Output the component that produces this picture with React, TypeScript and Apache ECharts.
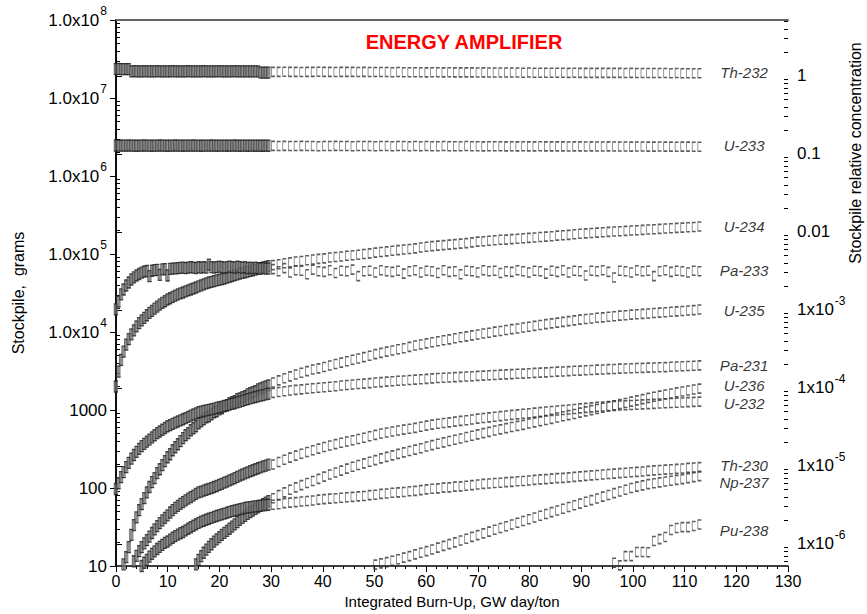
import React, { useEffect, useRef } from "react";
import * as echarts from "echarts";

const FONT = "'Liberation Sans', Arial, Helvetica, sans-serif";

// x positions of computed points: dense early steps and sparse later steps (GW day/ton)
const denseX = [
  0, 0.5, 1, 1.5, 2, 2.5, 3, 3.5, 4, 4.5, 5, 5.5, 6, 6.5, 7, 7.5, 8, 8.5, 9, 9.5,
  10, 10.5, 11, 11.5, 12, 12.5, 13, 13.5, 14, 14.5, 15, 15.5, 16, 16.5, 17, 17.5, 18, 18.5, 19, 19.5,
  20, 20.5, 21, 21.5, 22, 22.5, 23, 23.5, 24, 24.5, 25, 25.5, 26, 26.5, 27, 27.5, 28, 28.5, 29, 29.5,
];
const sparseX = [
  30.4, 31.5, 32.6, 33.7, 34.8, 35.9, 37.0, 38.1, 39.2, 40.3,
  41.4, 42.5, 43.6, 44.7, 45.8, 46.9, 48.0, 49.1, 50.2, 51.3,
  52.4, 53.5, 54.6, 55.7, 56.8, 57.9, 59.0, 60.1, 61.2, 62.3,
  63.4, 64.5, 65.6, 66.7, 67.8, 68.9, 70.0, 71.1, 72.2, 73.3,
  74.4, 75.5, 76.6, 77.7, 78.8, 79.9, 81.0, 82.1, 83.2, 84.3,
  85.4, 86.5, 87.6, 88.7, 89.8, 90.9, 92.0, 93.1, 94.2, 95.3,
  96.4, 97.5, 98.6, 99.7, 100.8, 101.9, 103.0, 104.1, 105.2, 106.3,
  107.4, 108.5, 109.6, 110.7, 111.8, 112.9,
];

// ---- stockpiles in grams ----
const th232Dense = [
  2.35e7, 2.36e7, 2.35e7, 2.34e7, 2.35e7, 2.34e7, 2.2e7, 2.21e7, 2.2e7, 2.19e7,
  2.2e7, 2.21e7, 2.2e7, 2.2e7, 2.19e7, 2.2e7, 2.21e7, 2.2e7, 2.2e7, 2.19e7,
  2.2e7, 2.2e7, 2.21e7, 2.2e7, 2.2e7, 2.19e7, 2.2e7, 2.2e7, 2.21e7, 2.2e7,
  2.2e7, 2.19e7, 2.2e7, 2.2e7, 2.21e7, 2.2e7, 2.2e7, 2.19e7, 2.2e7, 2.2e7,
  2.21e7, 2.2e7, 2.2e7, 2.19e7, 2.2e7, 2.2e7, 2.21e7, 2.2e7, 2.2e7, 2.19e7,
  2.2e7, 2.2e7, 2.19e7, 2.2e7, 2.2e7, 2.19e7, 2.12e7, 2.12e7, 2.11e7, 2.12e7,
];
const th232Sparse = [
  2.16e7, 2.16e7, 2.17e7, 2.16e7, 2.16e7, 2.15e7, 2.16e7, 2.16e7, 2.17e7, 2.16e7,
  2.16e7, 2.15e7, 2.16e7, 2.16e7, 2.16e7, 2.15e7, 2.16e7, 2.15e7, 2.15e7, 2.15e7,
  2.15e7, 2.14e7, 2.15e7, 2.14e7, 2.14e7, 2.14e7, 2.14e7, 2.13e7, 2.14e7, 2.14e7,
  2.13e7, 2.14e7, 2.13e7, 2.13e7, 2.13e7, 2.13e7, 2.12e7, 2.13e7, 2.12e7, 2.12e7,
  2.12e7, 2.12e7, 2.12e7, 2.12e7, 2.11e7, 2.12e7, 2.11e7, 2.11e7, 2.11e7, 2.11e7,
  2.11e7, 2.11e7, 2.1e7, 2.11e7, 2.1e7, 2.1e7, 2.1e7, 2.1e7, 2.1e7, 2.1e7,
  2.1e7, 2.1e7, 2.09e7, 2.1e7, 2.09e7, 2.09e7, 2.09e7, 2.09e7, 2.09e7, 2.09e7,
  2.08e7, 2.09e7, 2.08e7, 2.08e7, 2.08e7, 2.08e7,
];
const u233Dense = [
  2.46e6, 2.45e6, 2.46e6, 2.45e6, 2.45e6, 2.46e6, 2.45e6, 2.45e6, 2.44e6, 2.45e6,
  2.45e6, 2.46e6, 2.45e6, 2.45e6, 2.44e6, 2.45e6, 2.45e6, 2.46e6, 2.45e6, 2.45e6,
  2.44e6, 2.45e6, 2.45e6, 2.46e6, 2.45e6, 2.45e6, 2.44e6, 2.45e6, 2.45e6, 2.45e6,
  2.46e6, 2.45e6, 2.45e6, 2.44e6, 2.45e6, 2.45e6, 2.45e6, 2.46e6, 2.45e6, 2.44e6,
  2.45e6, 2.45e6, 2.45e6, 2.44e6, 2.45e6, 2.45e6, 2.46e6, 2.45e6, 2.44e6, 2.45e6,
  2.45e6, 2.44e6, 2.45e6, 2.45e6, 2.44e6, 2.45e6, 2.44e6, 2.44e6, 2.45e6, 2.44e6,
];
const u233Sparse = [
  2.43e6, 2.42e6, 2.43e6, 2.42e6, 2.42e6, 2.43e6, 2.42e6, 2.42e6, 2.41e6, 2.42e6,
  2.42e6, 2.43e6, 2.42e6, 2.42e6, 2.41e6, 2.42e6, 2.42e6, 2.42e6, 2.41e6, 2.42e6,
  2.42e6, 2.41e6, 2.42e6, 2.42e6, 2.41e6, 2.42e6, 2.41e6, 2.42e6, 2.41e6, 2.41e6,
  2.42e6, 2.41e6, 2.41e6, 2.41e6, 2.42e6, 2.41e6, 2.41e6, 2.4e6, 2.41e6, 2.41e6,
  2.41e6, 2.4e6, 2.41e6, 2.4e6, 2.41e6, 2.4e6, 2.4e6, 2.41e6, 2.4e6, 2.4e6,
  2.4e6, 2.4e6, 2.39e6, 2.4e6, 2.4e6, 2.39e6, 2.4e6, 2.39e6, 2.39e6, 2.4e6,
  2.39e6, 2.39e6, 2.39e6, 2.38e6, 2.39e6, 2.39e6, 2.38e6, 2.38e6, 2.39e6, 2.38e6,
  2.38e6, 2.37e6, 2.38e6, 2.38e6, 2.37e6, 2.37e6,
];
const u234Dense = [
  2000, 3100, 4400, 5600, 6900, 8100, 9300, 10500, 11800, 13000,
  14100, 15200, 16400, 17600, 18700, 19900, 21200, 22400, 23600, 24800,
  26100, 27100, 28200, 29200, 30300, 31200, 32100, 33100, 34100, 35100,
  36100, 37200, 38400, 39600, 40800, 42000, 43100, 44000, 44900, 45800,
  46700, 47600, 48500, 49700, 51000, 52200, 53500, 54800, 56200, 57300,
  58400, 59500, 60700, 61900, 63200, 64500, 65800, 67100, 68500, 69800,
];
const u234Sparse = [
  72000, 74000, 76000, 78000, 80000, 81500, 83000, 85000, 86500, 88000,
  90000, 91500, 93000, 95000, 96500, 98000, 100000, 102000, 104000, 106000,
  108000, 110000, 112000, 114000, 116000, 118000, 121000, 124000, 126000, 128000,
  130000, 132000, 134000, 136000, 138000, 141000, 144000, 146000, 148000, 150000,
  152000, 153000, 155000, 157000, 159000, 161000, 163000, 165000, 167000, 169000,
  172000, 174000, 176000, 179000, 182000, 184000, 186000, 188000, 190000, 192000,
  194000, 196000, 198000, 200000, 202000, 204000, 206000, 208000, 210000, 212000,
  214000, 216000, 218000, 220000, 222000, 225000,
];
const pa233Dense = [
  19500, 24600, 30300, 35100, 39500, 43100, 47100, 50100, 53000, 55400,
  57800, 59600, 60500, 52000, 61000, 62000, 62500, 54000, 63500, 64000,
  53000, 64500, 65000, 65500, 66000, 66500, 67000, 66000, 67000, 68000,
  67000, 66000, 68000, 67000, 68000, 67000, 73000, 68000, 67000, 68000,
  69000, 68000, 67000, 68000, 69000, 68000, 67000, 69000, 68000, 67000,
  68000, 66000, 67000, 66000, 67000, 66000, 65000, 66000, 65000, 65000,
];
const pa233Sparse = [
  64000, 60000, 66000, 58000, 62000, 61000, 55000, 63000, 60000, 59000,
  62000, 57000, 61000, 60000, 63000, 52000, 60000, 61000, 58000, 62000,
  60000, 59000, 61000, 56000, 60000, 62000, 58000, 61000, 60000, 57000,
  62000, 59000, 60000, 55000, 61000, 60000, 58000, 62000, 60000, 61000,
  57000, 60000, 59000, 62000, 60000, 58000, 61000, 60000, 56000, 61000,
  59000, 62000, 58000, 61000, 60000, 53000, 61000, 60000, 62000, 59000,
  50000, 61000, 60000, 58000, 62000, 60000, 61000, 52000, 60000, 62000,
  59000, 61000, 60000, 58000, 61000, 60000,
];
const u235DenseStart = 3;
const u235Dense = [
  10.5, 13, 17.5, 25, 33.5, 42, 52,
  62, 74, 88, 103, 119, 134, 155, 174, 196, 221,
  248, 271, 305, 333, 364, 398, 435, 475, 504, 550,
  583, 619, 676, 718, 761, 807, 832, 882, 935, 964,
  1021, 1052, 1117, 1151, 1220, 1257, 1295, 1372, 1413, 1456,
  1500, 1590, 1638, 1688, 1738, 1842, 1897, 1955, 2010, 2070,
];
const u235Sparse = [
  2250, 2400, 2550, 2700, 2850, 3000, 3150, 3300, 3420, 3560,
  3720, 3880, 4050, 4220, 4400, 4580, 4760, 4950, 5200, 5400,
  5600, 5800, 6000, 6200, 6450, 6700, 6900, 7150, 7400, 7600,
  7850, 8050, 8300, 8550, 8800, 9050, 9300, 9550, 9800, 10100,
  10300, 10600, 10900, 11100, 11400, 11700, 12000, 12300, 12600, 12900,
  13200, 13500, 13800, 14100, 14400, 14700, 14900, 15200, 15400, 15700,
  15900, 16200, 16400, 16700, 16900, 17100, 17300, 17500, 17700, 17900,
  18200, 18400, 18600, 18900, 19100, 19400,
];
const pa231Dense = [
  97, 115, 138, 160, 185, 210, 238, 265, 290, 318,
  344, 368, 393, 418, 445, 475, 504, 530, 558, 588,
  619, 640, 665, 688, 712, 736, 761, 788, 816, 845,
  875, 905, 935, 952, 970, 988, 1006, 1025, 1044, 1064,
  1084, 1105, 1128, 1150, 1172, 1196, 1220, 1250, 1280, 1310,
  1345, 1378, 1413, 1440, 1468, 1496, 1525, 1555, 1585, 1615,
];
const pa231Sparse = [
  1660, 1700, 1740, 1780, 1810, 1840, 1870, 1900, 1930, 1960,
  1990, 2020, 2060, 2090, 2120, 2150, 2180, 2210, 2250, 2280,
  2310, 2340, 2370, 2390, 2420, 2450, 2480, 2510, 2540, 2570,
  2590, 2610, 2640, 2660, 2690, 2710, 2740, 2760, 2790, 2810,
  2840, 2860, 2880, 2910, 2930, 2960, 2990, 3010, 3040, 3070,
  3100, 3120, 3150, 3180, 3200, 3230, 3260, 3290, 3310, 3340,
  3360, 3390, 3410, 3430, 3450, 3470, 3490, 3510, 3530, 3550,
  3580, 3610, 3640, 3670, 3700, 3730,
];
const u236DenseStart = 31;
const u236Dense = [
  10.5, 12, 13.4, 14.8, 16.2, 17.6, 19, 20.5, 22,
  23.5, 25, 26.6, 28.2, 30, 32, 34.2, 36.5, 39, 41.5,
  44, 46.5, 49, 51.5, 54, 56.5, 59, 62, 65, 68,
];
const u236Sparse = [
  74, 81, 88, 95, 102, 109, 116, 123, 131, 140,
  149, 158, 167, 177, 187, 197, 207, 217, 228, 240,
  251, 262, 274, 286, 298, 310, 323, 340, 355, 370,
  385, 400, 415, 432, 450, 468, 487, 505, 525, 545,
  565, 585, 605, 625, 645, 670, 695, 720, 745, 770,
  800, 830, 860, 890, 925, 960, 995, 1030, 1070, 1110,
  1150, 1190, 1230, 1280, 1330, 1380, 1430, 1480, 1530, 1580,
  1630, 1680, 1730, 1780, 1830, 1880,
];
const u232DenseStart = 7;
const u232Dense = [
  11.5, 13.5, 15.5,
  17.5, 19.5, 21.5, 23.8, 26.5, 29.5, 32.5, 35.5, 38.5, 41.5,
  44.5, 48.5, 52, 55.5, 59, 62.5, 66, 69.5, 73, 76.5,
  80, 84, 88, 90, 92.5, 95, 97.5, 100, 103, 106,
  109.5, 113, 117, 121, 125, 129, 134, 139, 144, 149,
  154, 159, 164, 169, 174, 179, 184, 189, 194, 199,
];
const u232Sparse = [
  200, 215, 230, 245, 260, 275, 290, 305, 320, 335,
  350, 365, 380, 395, 410, 425, 440, 460, 480, 500,
  515, 530, 545, 560, 575, 590, 610, 630, 650, 665,
  680, 695, 710, 725, 740, 755, 775, 790, 805, 820,
  835, 850, 865, 880, 895, 910, 925, 940, 955, 970,
  985, 1000, 1015, 1030, 1050, 1065, 1080, 1095, 1110, 1120,
  1130, 1140, 1150, 1160, 1170, 1180, 1190, 1200, 1210, 1220,
  1230, 1240, 1250, 1260, 1270, 1280,
];
const th230DenseStart = 10;
const th230Dense = [
  10, 11, 12, 13.2, 14.3, 15.4, 16.5, 17.6, 18.7, 19.8,
  20.6, 21.8, 23, 24.2, 25.3, 26.3, 27.3, 28.6, 30, 31.4,
  32.8, 34.3, 35.8, 37, 38, 39.2, 40.3, 41.5, 42.7, 43.8,
  45, 46, 47, 48.2, 49.3, 50.5, 51.5, 52.5, 53.5, 54.5,
  55.5, 56.3, 57, 57.6, 58.2, 58.8, 59.4, 60, 60.5, 61,
];
const th230Sparse = [
  61, 62, 64, 65, 66, 67, 68, 69, 71, 72,
  73, 74, 75, 76, 77, 78, 79, 81, 82, 84,
  85, 87, 88, 89, 91, 92, 94, 96, 98, 99,
  101, 102, 104, 105, 107, 109, 111, 113, 114, 116,
  117, 119, 120, 122, 123, 125, 127, 129, 130, 132,
  134, 135, 137, 139, 141, 143, 145, 147, 149, 151,
  153, 155, 157, 159, 161, 163, 166, 168, 170, 172,
  174, 176, 178, 181, 183, 185,
];
const np237SparseStart = 18;
const np237Sparse = [
  10.4, 10.8, 11.2, 11.7, 12.2, 12.8, 13.4, 14.1, 14.8, 15.5, 16.3, 17.2,
  18.1, 19.1, 20.1, 21.2, 22.4, 23.6, 24.9, 26.2, 27.6, 29.1,
  30.7, 32.3, 34.0, 35.8, 37.7, 39.8, 41.9, 44.1, 46.5, 49.0,
  51.5, 54.2, 57.0, 60.0, 63.0, 66.5, 70.0, 73.5, 77.5, 81.5,
  86, 90, 95, 100, 104, 108, 112, 115, 118, 121,
  124, 127, 130, 134, 138, 142,
];
const pu238SparseStart = 60;
const pu238Sparse = [
  11, 10.2, 13.4, 13.4, 15.1, 15.1, 15, 20.9, 22.1, 23.5,
  28.9, 30.7, 31.5, 31.5, 32.5, 34,
];

// isotope names and where their names sit (x in GW day/ton, y in grams)
const isotopes = ["Th-232", "U-233", "U-234", "Pa-233", "U-235", "Pa-231", "U-236", "U-232", "Th-230", "Np-237", "Pu-238"];
const labelValues = [2.1e7, 2.44e6, 2.24e5, 6.14e4, 1.89e4, 3730, 2070, 1220, 196, 119, 28.9];
const labelX = 121.5;

// axes
const leftTicks = [10, 100, 1000, 1e4, 1e5, 1e6, 1e7, 1e8];
const leftTickLabels = ["10", "100", "1000", "1.0x10{s|4}", "1.0x10{s|5}", "1.0x10{s|6}", "1.0x10{s|7}", "1.0x10{s|8}"];
const rightTicks = [1e-6, 1e-5, 1e-4, 1e-3, 0.01, 0.1, 1];
const rightTickLabels = ["1x10{s|-6}", "1x10{s|-5}", "1x10{s|-4}", "1x10{s|-3}", "0.01", "0.1", "1"];
const relRef = 1.92e7; // grams corresponding to relative concentration 1
const leftMin = 10;
const leftMax = 1e8;

const leftMinorTicks: number[] = [];
for (let e = 1; e < 8; e++) for (let m = 2; m <= 9; m++) leftMinorTicks.push(m * Math.pow(10, e));
const relMin = leftMin / relRef;
const relMax = leftMax / relRef;
const rightMinorTicks: number[] = [];
for (let e = -7; e <= 0; e++)
  for (let m = 2; m <= 9; m++) {
    const v = m * Math.pow(10, e);
    if (v >= relMin && v <= relMax) rightMinorTicks.push(v);
  }

const BRACKET = "path://M4,0L0,0L0,10L4,10";

function pairs(xs: number[], ys: number[], start = 0) {
  return ys.map((y, i) => [xs[start + i], y]);
}

function labelFor(ticks: number[], labels: string[]) {
  return (v: number) => {
    const i = ticks.findIndex((t) => Math.abs(Math.log10(t) - Math.log10(v)) < 1e-6);
    return i >= 0 ? labels[i] : "";
  };
}

export default function App() {
  const ref = useRef<HTMLDivElement>(null);
  useEffect(() => {
    if (!ref.current) return;
    const chart = echarts.init(ref.current, null, { renderer: "svg" });

    const denseSets: [number[], number][] = [
      [th232Dense, 0], [u233Dense, 0], [u234Dense, 0], [pa233Dense, 0],
      [u235Dense, u235DenseStart], [pa231Dense, 0], [u236Dense, u236DenseStart],
      [u232Dense, u232DenseStart], [th230Dense, th230DenseStart],
    ];
    const sparseSets: [number[], number][] = [
      [th232Sparse, 0], [u233Sparse, 0], [u234Sparse, 0], [pa233Sparse, 0],
      [u235Sparse, 0], [pa231Sparse, 0], [u236Sparse, 0], [u232Sparse, 0],
      [th230Sparse, 0], [np237Sparse, np237SparseStart], [pu238Sparse, pu238SparseStart],
    ];

    const series: any[] = [];
    denseSets.forEach(([vals, start], i) => {
      series.push({
        type: "scatter",
        name: isotopes[i] + " dense",
        symbol: BRACKET,
        symbolSize: [4, 11],
        silent: true,
        itemStyle: { color: "#717171", borderColor: "#1e1e1e", borderWidth: 0.8 },
        data: pairs(denseX, vals, start),
      });
    });
    sparseSets.forEach(([vals, start], i) => {
      series.push({
        type: "scatter",
        name: isotopes[i],
        symbol: BRACKET,
        symbolSize: [3.5, 9],
        silent: true,
        itemStyle: { color: "rgba(0,0,0,0)", borderColor: "#333", borderWidth: 1 },
        data: pairs(sparseX, vals, start),
      });
    });
    series.push({
      type: "scatter",
      name: "labels",
      symbolSize: 1,
      silent: true,
      itemStyle: { color: "rgba(0,0,0,0)" },
      label: {
        show: true,
        position: "inside",
        formatter: "{b}",
        fontStyle: "italic",
        fontSize: 15,
        lineHeight: 15,
        color: "#000",
        fontFamily: FONT,
      },
      data: isotopes.map((n, i) => ({ name: n, value: [labelX, labelValues[i]] })),
    });

    const supRich = { s: { fontSize: 12, padding: [0, 0, 18, 1], fontFamily: FONT, color: "#000" } };

    chart.setOption({
      animation: false,
      backgroundColor: "#fff",
      grid: { left: 116, right: 79, top: 20, bottom: 47, containLabel: false },
      xAxis: [
        {
          type: "value",
          min: 0,
          max: 130,
          interval: 10,
          position: "bottom",
          axisLine: { show: true, lineStyle: { color: "#000", width: 1.5 } },
          axisTick: { show: true, length: 6, lineStyle: { color: "#000", width: 1 } },
          minorTick: { show: true, splitNumber: 5, length: 3, lineStyle: { color: "#000", width: 1 } },
          axisLabel: { fontSize: 16, color: "#000", margin: 7, fontFamily: FONT },
          splitLine: { show: false },
          name: "Integrated Burn-Up, GW day/ton",
          nameLocation: "middle",
          nameGap: 28,
          nameTextStyle: { fontSize: 15, color: "#000", fontFamily: FONT },
        },
        {
          type: "value",
          min: 0,
          max: 130,
          position: "top",
          axisLine: { show: true, lineStyle: { color: "#666", width: 2 } },
          axisTick: { show: false },
          axisLabel: { show: false },
          splitLine: { show: false },
        },
      ],
      yAxis: [
        {
          type: "log",
          logBase: 10,
          min: leftMin,
          max: leftMax,
          position: "left",
          axisLine: { show: true, lineStyle: { color: "#000", width: 1.5 } },
          axisTick: { show: true, length: 6, customValues: leftTicks, lineStyle: { color: "#000", width: 1 } },
          axisLabel: {
            customValues: leftTicks,
            formatter: labelFor(leftTicks, leftTickLabels),
            rich: supRich,
            fontSize: 17,
            color: "#000",
            margin: 9,
            fontFamily: FONT,
          },
          splitLine: { show: false },
          name: "Stockpile,  grams",
          nameLocation: "middle",
          nameGap: 90,
          nameTextStyle: { fontSize: 16, color: "#000", fontFamily: FONT },
        },
        {
          type: "log",
          logBase: 10,
          min: relMin,
          max: relMax,
          position: "right",
          axisLine: { show: true, lineStyle: { color: "#000", width: 1.5 } },
          axisTick: { show: true, length: 6, customValues: rightTicks, lineStyle: { color: "#000", width: 1 } },
          axisLabel: {
            customValues: rightTicks,
            formatter: labelFor(rightTicks, rightTickLabels),
            rich: supRich,
            fontSize: 17,
            color: "#000",
            margin: 9,
            fontFamily: FONT,
          },
          splitLine: { show: false },
        },
        {
          type: "log",
          logBase: 10,
          min: leftMin,
          max: leftMax,
          position: "left",
          axisLine: { show: false },
          axisTick: { show: true, inside: true, length: 4, customValues: leftMinorTicks, lineStyle: { color: "#000", width: 1 } },
          axisLabel: { show: false },
          splitLine: { show: false },
        },
        {
          type: "log",
          logBase: 10,
          min: relMin,
          max: relMax,
          position: "right",
          axisLine: { show: false },
          axisTick: { show: true, inside: true, length: 4, customValues: rightMinorTicks, lineStyle: { color: "#000", width: 1 } },
          axisLabel: { show: false },
          splitLine: { show: false },
        },
      ],
      graphic: [
        {
          type: "text",
          x: 464,
          y: 42,
          silent: true,
          style: {
            text: "ENERGY AMPLIFIER",
            fill: "#ff0000",
            fontSize: 20,
            fontWeight: "bold",
            fontFamily: FONT,
            align: "center",
            verticalAlign: "middle",
          },
        },
        {
          type: "text",
          x: 855,
          y: 153,
          rotation: Math.PI / 2,
          silent: true,
          style: {
            text: "Stockpile relative concentration",
            fill: "#000",
            fontSize: 16,
            fontFamily: FONT,
            align: "center",
            verticalAlign: "middle",
          },
        },
      ],
      series,
    });
    return () => chart.dispose();
  }, []);

  return <div ref={ref} style={{ position: "absolute", left: 0, top: 0, width: 867, height: 614 }} />;
}
